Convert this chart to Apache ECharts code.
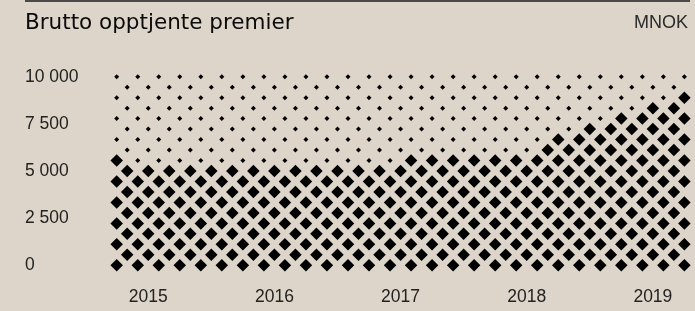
<!DOCTYPE html>
<html>
<head>
<meta charset="utf-8">
<script src="https://cdn.jsdelivr.net/npm/echarts@6/dist/echarts.min.js"></script>
<style>
  html, body { margin: 0; padding: 0; background: #ddd5c9; }
  #chart { width: 695px; height: 311px; }
</style>
</head>
<body>
<div id="chart"></div>
<script>
// monthly gross earned premiums, MNOK (Oct 2014 - Apr 2019)
const startYear = 2014;
const startMonth = 10;
const premiums = [
  5800, 5200, 5150, 5250, 5100, 5300, 5200, 5150, 5250, 5300,
  5200, 5350, 5250, 5200, 5300, 5400, 5300, 5250, 5350, 5300,
  5400, 5350, 5300, 5450, 5400, 5350, 5500, 5450, 5700, 5750,
  5650, 5800, 5750, 5700, 5850, 5800, 5750, 5900, 5850, 5950,
  6050, 6300, 6700, 7000, 7200, 7400, 7600, 7900, 8100, 8300,
  8500, 8700, 8800, 9000, 9200
];
const yTicks = [0, 2500, 5000, 7500, 10000];
const yearLabels = ['2015', '2016', '2017', '2018', '2019'];
const rowCount = 19; // dot rows from 0 to 10 000

const months = premiums.map((_, i) => {
  const m = startMonth - 1 + i;
  const y = startYear + Math.floor(m / 12);
  return y + '-' + String((m % 12) + 1).padStart(2, '0');
});

const yMax = yTicks[yTicks.length - 1];
const rowStep = yMax / (rowCount - 1);

// checkerboard lattice: big diamond below the value, small dot above
const big = [];
const small = [];
premiums.forEach((v, c) => {
  for (let r = c % 2; r < rowCount; r += 2) {
    const rv = r * rowStep;
    if (rv <= v + 1e-6) big.push([c, rv]);
    else small.push([c, rv]);
  }
});

const chart = echarts.init(document.getElementById('chart'));

const option = {
  backgroundColor: '#ddd5c9',
  animation: false,
  textStyle: { fontFamily: 'Liberation Sans' },
  grid: { left: 116.7, right: 10.6, top: 76.7, bottom: 45.7 },
  graphic: [
    { type: 'rect', shape: { x: 25, y: 0, width: 665, height: 2 }, style: { fill: '#4a4a4a' } },
    {
      type: 'text', x: 25, y: 23,
      style: { text: 'Brutto opptjente premier', fontFamily: 'DejaVu Sans', fontSize: 21.5, fill: '#0a0a0a', verticalAlign: 'middle' }
    },
    {
      type: 'text', x: 688, y: 23,
      style: { text: 'MNOK', fontFamily: 'Liberation Sans', fontSize: 18, fill: '#2a2a2a', align: 'right', verticalAlign: 'middle' }
    }
  ],
  xAxis: {
    type: 'category',
    data: months,
    boundaryGap: false,
    axisLine: { show: false },
    axisTick: { show: false },
    splitLine: { show: false },
    axisLabel: {
      color: '#222',
      fontSize: 17.5,
      margin: 23,
      interval: (i, v) => v.endsWith('-01') && yearLabels.includes(v.slice(0, 4)),
      formatter: v => v.slice(0, 4)
    }
  },
  yAxis: {
    type: 'value',
    min: 0,
    max: yMax,
    interval: 2500,
    axisLine: { show: false },
    axisTick: { show: false },
    splitLine: { show: false },
    axisLabel: {
      color: '#222',
      fontSize: 17.5,
      align: 'left',
      margin: 91.7,
      formatter: v => String(v).replace(/\B(?=(\d{3})+(?!\d))/g, ' ')
    }
  },
  series: [
    {
      type: 'scatter',
      data: small,
      symbol: 'diamond',
      symbolSize: 5,
      itemStyle: { color: '#000', opacity: 1 },
      silent: true
    },
    {
      type: 'scatter',
      data: big,
      symbol: 'diamond',
      symbolSize: 12.5,
      itemStyle: { color: '#000', opacity: 1 },
      silent: true
    }
  ]
};

chart.setOption(option);
</script>
</body>
</html>
